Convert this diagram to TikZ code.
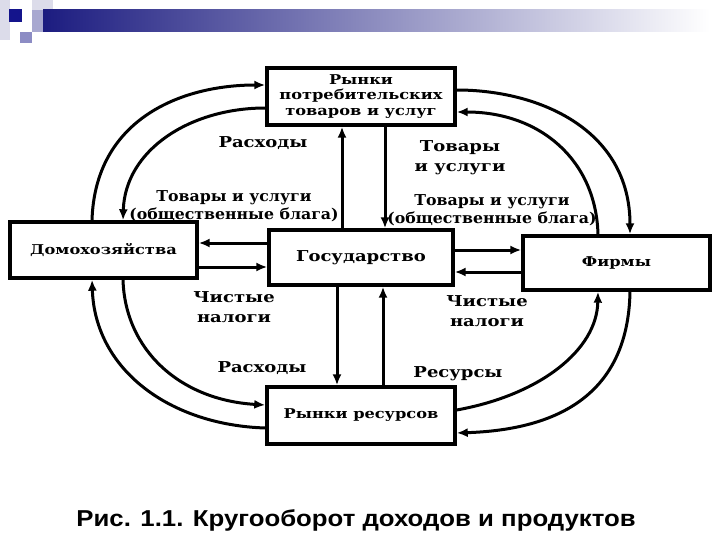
\documentclass[tikz,border=0pt]{standalone}
\usepackage{fontspec}
\setmainfont{DejaVu Serif}
\newfontfamily\wideA[FakeStretch=1.2]{DejaVu Serif}
\newfontfamily\wideB[FakeStretch=1.05]{DejaVu Serif}
\newfontfamily\capfont[FakeStretch=1.12]{Liberation Sans}
\usetikzlibrary{arrows.meta}
\definecolor{navyb}{HTML}{14148C}
\definecolor{barblue}{HTML}{1C1C80}
\definecolor{lavA}{HTML}{DCDCEA}
\definecolor{lavB}{HTML}{A8A8D0}
\definecolor{lavC}{HTML}{8C8CC4}
\begin{document}
\begin{tikzpicture}[x=1pt,y=-1pt,
  box/.style={draw, line width=3.4pt, inner sep=0pt, align=center,
    font=\wideA\bfseries\fontsize{13.5}{15.5}\selectfont},
  lbl/.style={align=center, inner sep=0pt,
    font=\wideA\bfseries\fontsize{15}{20}\selectfont},
  slbl/.style={align=center, inner sep=0pt,
    font=\wideB\bfseries\fontsize{15}{18}\selectfont},
  ln/.style={line width=3pt},
  arr/.style={ln, -{Latex[length=11pt,width=9pt]}},
]
\useasboundingbox (0,0) rectangle (720,540);
\fill[white] (0,0) rectangle (720,540);
% header decoration
\fill[lavA] (0,0) rectangle (10,40);
\fill[lavA] (32,0) rectangle (53,10);
\fill[navyb] (9,9) rectangle (22,22);
\fill[lavB] (32,10) rectangle (43,32);
\shade[left color=barblue, right color=white] (43,10) rectangle (710,32);
\fill[lavC] (20,32) rectangle (32,43);

% boxes
\node[box, minimum width=188pt, minimum height=57pt] (mk) at (361,96.5)
  {Рынки\\потребительских\\товаров и услуг};
\node[box, minimum width=187pt, minimum height=56pt] (dom) at (103.5,250)
  {Домохозяйства};
\node[box, minimum width=184pt, minimum height=55pt, font=\wideA\bfseries\fontsize{15}{18}\selectfont] (gov) at (361,257.5)
  {Государство};
\node[box, minimum width=187pt, minimum height=54pt] (firm) at (616.5,263)
  {Фирмы};
\node[box, minimum width=188pt, minimum height=57pt] (rr) at (361,415.5)
  {Рынки ресурсов};

% helper coordinates
\coordinate (v1) at (342,0);
\coordinate (v2) at (385,0);
\coordinate (v3) at (337,0);
\coordinate (v4) at (383,0);
\coordinate (h1) at (0,243);
\coordinate (h2) at (0,267);
\coordinate (h3) at (0,250);
\coordinate (h4) at (0,272);
\coordinate (xa) at (92,0);
\coordinate (xb) at (123,0);
\coordinate (xc) at (630,0);
\coordinate (xd) at (598,0);
\coordinate (ya) at (0,85);
\coordinate (yb) at (0,108);
\coordinate (yc) at (0,90);
\coordinate (yd) at (0,112);
\coordinate (ye) at (0,428);
\coordinate (yf) at (0,405);
\coordinate (yg) at (0,410);
\coordinate (yh) at (0,433);

% vertical connectors
\draw[arr] (gov.north -| v1) -- (mk.south -| v1);
\draw[arr] (mk.south -| v2) -- (gov.north -| v2);
\draw[arr] (gov.south -| v3) -- (rr.north -| v3);
\draw[arr] (rr.north -| v4) -- (gov.south -| v4);

% horizontal connectors
\draw[arr] (gov.west |- h1) -- (dom.east |- h1);
\draw[arr] (dom.east |- h2) -- (gov.west |- h2);
\draw[arr] (gov.east |- h3) -- (firm.west |- h3);
\draw[arr] (firm.west |- h4) -- (gov.east |- h4);

% arcs
\draw[arr] (dom.north -| xa) .. controls (95,120) and (180,85) .. (mk.west |- ya);
\draw[arr] (mk.west |- yb) .. controls (190,108) and (125,150) .. (dom.north -| xb);
\draw[arr] (mk.east |- yc) .. controls (540,90) and (630,130) .. (firm.north -| xc);
\draw[arr] (firm.north -| xd) .. controls (596,160) and (540,112) .. (mk.east |- yd);
\draw[arr] (rr.west |- ye) .. controls (170,425) and (95,370) .. (dom.south -| xa);
\draw[arr] (dom.south -| xb) .. controls (125,350) and (180,400) .. (rr.west |- yf);
\draw[arr] (rr.east |- yg) .. controls (540,395) and (597,350) .. (firm.south -| xd);
\draw[arr] (firm.south -| xc) .. controls (628,400) and (550,430) .. (rr.east |- yh);

% labels
\node[lbl] (l1) at (263,143) {Расходы};
\node[lbl] (l2) at (460,158) {Товары\\и услуги};
\node[slbl] (l3) at (234,206) {Товары и услуги\\(общественные блага)};
\node[slbl] (l4) at (492,210) {Товары и услуги\\(общественные блага)};
\node[lbl] (l5) at (234,307) {Чистые\\налоги};
\node[lbl] (l6) at (487,311) {Чистые\\налоги};
\node[lbl] (l7) at (262,368) {Расходы};
\node[lbl] (l8) at (458,374) {Ресурсы};

% caption
\node[inner sep=0pt, font=\capfont\bfseries\fontsize{23}{26}\selectfont] (cap) at (356,520)
  {Рис. 1.1. Кругооборот доходов и продуктов};
\end{tikzpicture}
\end{document}
